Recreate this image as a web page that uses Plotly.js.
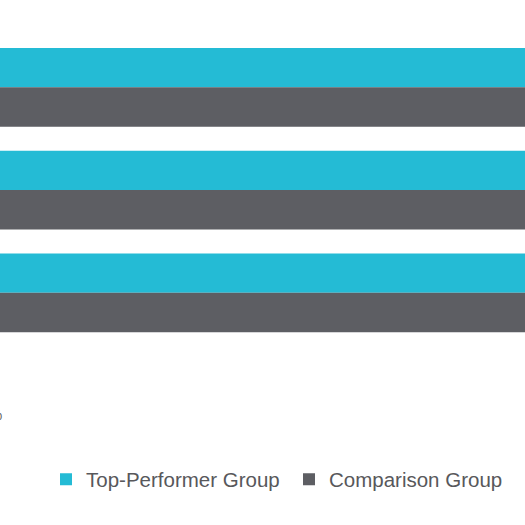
<!DOCTYPE html>
<html>
<head>
<meta charset="utf-8">
<script src="https://cdn.plot.ly/plotly-3.0.1.min.js"></script>
<style>
  html, body { margin: 0; padding: 0; width: 525px; height: 525px; overflow: hidden; background: #ffffff; }
  #chart { position: absolute; left: -58px; top: 0; width: 800px; height: 525px; }
</style>
</head>
<body>
<div id="chart"></div>
<script>
// Categories (labels are cropped out of the reference view)
const categories = ["Measure 1", "Measure 2", "Measure 3"];
// Series values (percent); bars run past the visible edge of the reference
const topPerformer = [92, 90, 88];
const comparison = [86, 83, 80];
const seriesNames = ["Top-Performer Group", "Comparison Group"];
const xTickVals = [0, 100];
const xTickText = ["0%", "100%"];

const traces = [
  {
    type: "bar", orientation: "h", name: seriesNames[0],
    y: categories, x: topPerformer,
    marker: { color: "#24BBD5" }
  },
  {
    type: "bar", orientation: "h", name: seriesNames[1],
    y: categories, x: comparison,
    marker: { color: "#5D5E63" }
  }
];

const layout = {
  width: 800, height: 525,
  margin: { l: 50, r: 8, t: 36, b: 123 },
  paper_bgcolor: "#ffffff", plot_bgcolor: "#ffffff",
  barmode: "group", bargap: 0.233, bargroupgap: 0,
  font: { family: "Liberation Sans, Arial, sans-serif", color: "#595959" },
  xaxis: {
    range: [0, 100], tickvals: xTickVals, ticktext: xTickText,
    showgrid: false, zeroline: false, showline: false, ticks: "",
    ticklabelstandoff: 3,
    tickfont: { size: 14, color: "#595959" }
  },
  yaxis: {
    range: [3.063, -0.5], showgrid: false, zeroline: false, showline: false,
    ticks: "", showticklabels: false
  },
  showlegend: true,
  legend: {
    orientation: "h", xref: "container", yref: "container",
    x: 0.130, xanchor: "left", y: 0.0867, yanchor: "middle",
    entrywidth: 198, entrywidthmode: "pixels",
    font: { size: 20.5, color: "#58585B" },
    bgcolor: "rgba(0,0,0,0)", traceorder: "normal"
  }
};

Plotly.newPlot("chart", traces, layout, { displayModeBar: false, staticPlot: true });
</script>
</body>
</html>
